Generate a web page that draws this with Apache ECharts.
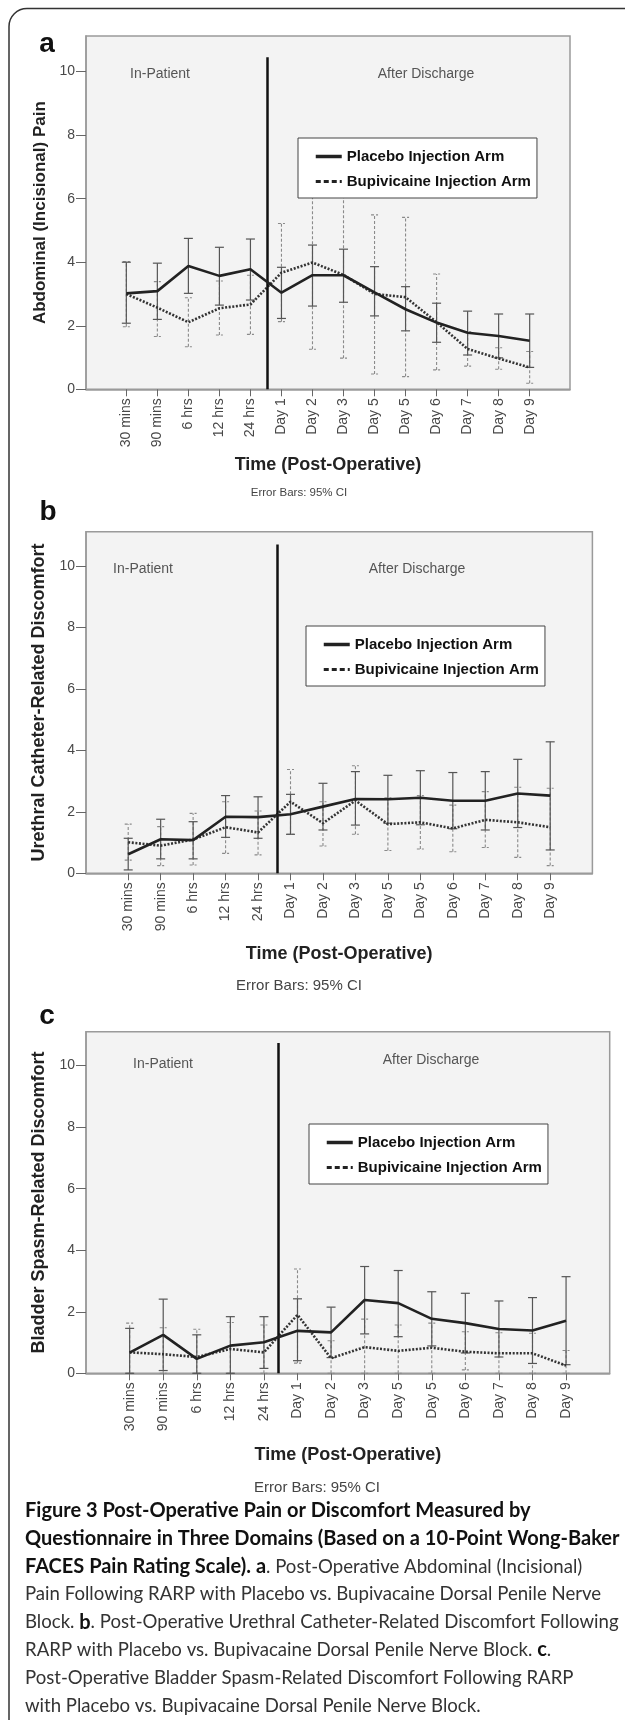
<!DOCTYPE html>
<html>
<head>
<meta charset="utf-8">
<script src="https://cdn.jsdelivr.net/npm/echarts@6/dist/echarts.min.js"></script>
<style>
html,body{margin:0;padding:0;background:#fff;}
#chart{width:625px;height:1720px;}
</style>
</head>
<body>
<div id="chart"></div>
<script>
// ---------- data ----------
const categories = ['30 mins','90 mins','6 hrs','12 hrs','24 hrs','Day 1','Day 2','Day 3','Day 5','Day 5','Day 6','Day 7','Day 8','Day 9'];
const yTickValues = [0, 2, 4, 6, 8, 10];
const seriesNames = ['Placebo Injection Arm', 'Bupivicaine Injection Arm'];

// Panel a: Abdominal (Incisional) Pain
const aPlaceboMean = [3.02, 3.09, 3.88, 3.57, 3.78, 3.04, 3.59, 3.59, 3.05, 2.52, 2.10, 1.78, 1.68, 1.53];
const aPlaceboLow  = [2.08, 2.20, 3.02, 2.65, 2.81, 2.23, 2.62, 2.74, 2.31, 1.84, 1.48, 1.08, 0.99, 0.69];
const aPlaceboHigh = [4.00, 3.97, 4.75, 4.47, 4.73, 3.84, 4.54, 4.41, 3.86, 3.23, 2.71, 2.46, 2.37, 2.37];
const aBupiMean    = [3.00, 2.57, 2.11, 2.55, 2.67, 3.67, 3.99, 3.60, 3.00, 2.90, 2.11, 1.27, 0.97, 0.69];
const aBupiLow     = [1.97, 1.66, 1.34, 1.71, 1.73, 2.13, 1.26, 0.98, 0.48, 0.40, 0.61, 0.73, 0.63, 0.19];
const aBupiHigh    = [4.02, 3.39, 2.88, 3.41, 3.59, 5.22, 6.72, 6.22, 5.49, 5.41, 3.63, 1.81, 1.31, 1.19];

// Panel b: Urethral Catheter-Related Discomfort
const bPlaceboMean = [0.62, 1.11, 1.08, 1.84, 1.83, 1.92, 2.17, 2.42, 2.41, 2.46, 2.36, 2.36, 2.60, 2.53];
const bPlaceboLow  = [0.11, 0.47, 0.47, 1.17, 1.14, 1.27, 1.41, 1.57, 1.63, 1.58, 1.45, 1.41, 1.49, 0.76];
const bPlaceboHigh = [1.14, 1.76, 1.68, 2.53, 2.49, 2.57, 2.93, 3.31, 3.19, 3.34, 3.28, 3.31, 3.71, 4.28];
const bBupiMean    = [1.01, 0.90, 1.10, 1.50, 1.33, 2.33, 1.63, 2.37, 1.60, 1.66, 1.46, 1.74, 1.66, 1.50];
const bBupiLow     = [0.43, 0.25, 0.27, 0.65, 0.60, 1.27, 0.89, 1.27, 0.74, 0.79, 0.70, 0.84, 0.52, 0.25];
const bBupiHigh    = [1.60, 1.52, 1.95, 2.33, 2.03, 3.38, 2.33, 3.50, 2.46, 2.53, 2.22, 2.66, 2.80, 2.77];

// Panel c: Bladder Spasm-Related Discomfort
const cPlaceboMean = [0.67, 1.25, 0.47, 0.90, 1.01, 1.38, 1.33, 2.38, 2.28, 1.77, 1.63, 1.44, 1.39, 1.71];
const cPlaceboLow  = [0.00, 0.09, 0.00, 0.00, 0.16, 0.41, 0.51, 1.28, 1.19, 0.89, 0.66, 0.53, 0.32, 0.28];
const cPlaceboHigh = [1.46, 2.41, 1.25, 1.84, 1.84, 2.42, 2.15, 3.47, 3.34, 2.65, 2.60, 2.35, 2.46, 3.14];
const cBupiMean    = [0.68, 0.62, 0.53, 0.79, 0.68, 1.90, 0.49, 0.85, 0.73, 0.83, 0.70, 0.65, 0.65, 0.25];
const cBupiLow     = [0.00, 0.00, 0.00, 0.00, 0.00, 0.33, 0.00, 0.00, 0.00, 0.00, 0.11, 0.00, 0.00, 0.00];
const cBupiHigh    = [1.63, 1.48, 1.43, 1.65, 1.57, 3.39, 1.06, 1.76, 1.57, 1.63, 1.35, 1.32, 1.30, 0.74];

// divider between in-patient and after discharge (x in category units, top in y units)
const dividerX   = [4.55, 4.59, 4.44];
const dividerTop = [10.45, 10.7, 10.73];

const yTitles = ['Abdominal (Incisional) Pain', 'Urethral Catheter-Related Discomfort', 'Bladder Spasm-Related Discomfort'];
const panelLetters = ['a', 'b', 'c'];
const xTitle = 'Time (Post-Operative)';
const errorNote = 'Error Bars: 95% CI';

// ---------- layout ----------
const panels = [
  { pm: aPlaceboMean, pl: aPlaceboLow, ph: aPlaceboHigh, bm: aBupiMean, bl: aBupiLow, bh: aBupiHigh,
    grid: {left: 86, top: 36, width: 484, height: 353.3}, yMax: 11.12, yNameSize: 17, yNameGap: 24, xNameGap: 67,
    letter: [47, 44], inP: [160, 74], after: [426, 74], note: [299, 493, 11.5],
    legend: {left: 298, top: 138} },
  { pm: bPlaceboMean, pl: bPlaceboLow, ph: bPlaceboHigh, bm: bBupiMean, bl: bBupiLow, bh: bBupiHigh,
    grid: {left: 86, top: 531.7, width: 506.4, height: 341.6}, yMax: 11.12, yNameSize: 18, yNameGap: 32, xNameGap: 72,
    letter: [48, 512], inP: [143, 569], after: [417, 569], note: [299, 986, 15],
    legend: {left: 306, top: 626} },
  { pm: cPlaceboMean, pl: cPlaceboLow, ph: cPlaceboHigh, bm: cBupiMean, bl: cBupiLow, bh: cBupiHigh,
    grid: {left: 86, top: 1031.7, width: 523.7, height: 341.6}, yMax: 11.1, yNameSize: 18, yNameGap: 32, xNameGap: 73,
    letter: [47, 1016], inP: [163, 1064], after: [431, 1060], note: [317, 1488, 15],
    legend: {left: 309, top: 1124} }
];

function errRender(capHalf, stroke, dash, width) {
  return function (params, api) {
    const x = api.value(0), lo = api.value(1), hi = api.value(2);
    const p1 = api.coord([x, lo]), p2 = api.coord([x, hi]);
    const st = () => ({ stroke: stroke, lineWidth: width, lineDash: dash, fill: null });
    return { type: 'group', children: [
      { type: 'line', shape: { x1: p1[0], y1: p1[1], x2: p2[0], y2: p2[1] }, style: st() },
      { type: 'line', shape: { x1: p1[0] - capHalf, y1: p1[1], x2: p1[0] + capHalf, y2: p1[1] }, style: st() },
      { type: 'line', shape: { x1: p2[0] - capHalf, y1: p2[1], x2: p2[0] + capHalf, y2: p2[1] }, style: st() }
    ]};
  };
}

const FONT = 'Liberation Sans, Arial, sans-serif';
const grids = [], xAxes = [], yAxes = [], series = [], legends = [], graphics = [];
const idx = categories.map((c, i) => i);
const hiddenSymbol = { color: 'rgba(0,0,0,0)', borderWidth: 0, opacity: 0 };

panels.forEach((p, k) => {
  grids.push(Object.assign({ show: true, backgroundColor: '#f3f3f3', borderColor: '#9a9a9a', borderWidth: 1.5 }, p.grid));
  xAxes.push({
    type: 'value', gridIndex: k, min: -1.3, max: 14.3,
    name: xTitle, nameLocation: 'middle', nameGap: p.xNameGap,
    nameTextStyle: { fontFamily: FONT, fontWeight: 'bold', fontSize: 18, color: '#222' },
    splitLine: { show: false },
    axisLine: { show: true, onZero: false, lineStyle: { color: '#9a9a9a', width: 1.5 } },
    axisTick: { show: true, length: 7, customValues: idx, lineStyle: { color: '#666' } },
    axisLabel: { customValues: idx, rotate: 90, margin: 9, fontFamily: FONT, fontSize: 14, color: '#484848',
      formatter: v => categories[Math.round(v)] }
  });
  yAxes.push({
    type: 'value', gridIndex: k, min: 0, max: p.yMax,
    name: yTitles[k], nameLocation: 'middle', nameGap: p.yNameGap, nameRotate: 90,
    nameTextStyle: { fontFamily: FONT, fontWeight: 'bold', fontSize: p.yNameSize, color: '#222' },
    splitLine: { show: false },
    axisLine: { show: true, onZero: false, lineStyle: { color: '#9a9a9a', width: 1.5 } },
    axisTick: { show: true, length: 10, customValues: yTickValues, lineStyle: { color: '#666' } },
    axisLabel: { customValues: yTickValues, margin: 11, fontFamily: FONT, fontSize: 14, color: '#484848' }
  });
  // error bars
  series.push({
    type: 'custom', name: 'Bupivicaine CI', xAxisIndex: k, yAxisIndex: k, z: 2,
    renderItem: errRender(3.5, '#8a8a8a', [3, 2], 1.1),
    encode: { x: 0, y: [1, 2] },
    data: idx.map(i => [i, p.bl[i], p.bh[i]])
  });
  series.push({
    type: 'custom', name: 'Placebo CI', xAxisIndex: k, yAxisIndex: k, z: 3,
    renderItem: errRender(4.5, '#555', null, 1.2),
    encode: { x: 0, y: [1, 2] },
    data: idx.map(i => [i, p.pl[i], p.ph[i]])
  });
  series.push({
    type: 'line', name: seriesNames[1], xAxisIndex: k, yAxisIndex: k, z: 4,
    symbol: 'none', color: '#333',
    lineStyle: { color: '#333', width: 2.6, type: [2, 1.6] },
    data: idx.map(i => [i, p.bm[i]])
  });
  series.push({
    type: 'line', name: seriesNames[0], xAxisIndex: k, yAxisIndex: k, z: 5,
    symbol: 'none', color: '#222',
    lineStyle: { color: '#222', width: 2.6 },
    data: idx.map(i => [i, p.pm[i]]),
    markLine: {
      silent: true, symbol: 'none', label: { show: false },
      lineStyle: { color: '#111', width: 2.5, type: 'solid' },
      data: [[ { coord: [dividerX[k], 0] }, { coord: [dividerX[k], dividerTop[k]] } ]]
    }
  });
  legends.push({
    left: p.legend.left, top: p.legend.top, orient: 'vertical',
    backgroundColor: '#fff', borderColor: '#444', borderWidth: 1, borderRadius: 0,
    padding: [11, 6, 9, 16], itemGap: 10, itemWidth: 26, itemHeight: 14,
    selectedMode: false,
    textStyle: { fontFamily: FONT, fontWeight: 'bold', fontSize: 15, color: '#111' },
    data: [
      { name: seriesNames[0], itemStyle: hiddenSymbol, lineStyle: { width: 3.5, type: 'solid', color: '#222' } },
      { name: seriesNames[1], itemStyle: hiddenSymbol, lineStyle: { width: 3, type: [5, 3], color: '#222' } }
    ]
  });
  graphics.push({ type: 'text', x: p.letter[0], y: p.letter[1], style: { text: panelLetters[k],
    font: 'bold 28px ' + FONT, fill: '#111', align: 'center', verticalAlign: 'middle' } });
  graphics.push({ type: 'text', x: p.inP[0], y: p.inP[1], z: 10, style: { text: 'In-Patient',
    font: '14px ' + FONT, fill: '#555', align: 'center', verticalAlign: 'middle' } });
  graphics.push({ type: 'text', x: p.after[0], y: p.after[1], z: 10, style: { text: 'After Discharge',
    font: '14px ' + FONT, fill: '#555', align: 'center', verticalAlign: 'middle' } });
  graphics.push({ type: 'text', x: p.note[0], y: p.note[1], style: { text: errorNote,
    font: p.note[2] + 'px ' + FONT, fill: '#444', align: 'center', verticalAlign: 'middle' } });
});

// outer frame
graphics.push({ type: 'rect', z: -1, shape: { x: 9, y: 8.5, width: 720, height: 1800, r: 18 },
  style: { fill: null, stroke: '#333', lineWidth: 1.5 } });

// caption
const captionLines = [
  '{b|Figure 3 Post-Operative Pain or Discomfort Measured by}',
  '{b|Questionnaire in Three Domains (Based on a 10-Point Wong-Baker}',
  '{b|FACES Pain Rating Scale). a}{r|. Post-Operative Abdominal (Incisional)}',
  '{r|Pain Following RARP with Placebo vs. Bupivacaine Dorsal Penile Nerve}',
  '{r|Block. }{b|b}{r|. Post-Operative Urethral Catheter-Related Discomfort Following}',
  '{r|RARP with Placebo vs. Bupivacaine Dorsal Penile Nerve Block. }{b|c}{r|.}',
  '{r|Post-Operative Bladder Spasm-Related Discomfort Following RARP}',
  '{r|with Placebo vs. Bupivacaine Dorsal Penile Nerve Block.}'
];
const CAPFONT = 'Lato, Open Sans, sans-serif';
captionLines.forEach((t, i) => {
  graphics.push({ type: 'text', x: 25, y: 1511 + i * 27.8, style: {
    text: t, align: 'left', verticalAlign: 'middle',
    rich: {
      b: { fontFamily: CAPFONT, fontWeight: 'bold', fontSize: 20, fill: '#111' },
      r: { fontFamily: CAPFONT, fontWeight: 'normal', fontSize: 18.6, fill: '#333' }
    } } });
});

const chart = echarts.init(document.getElementById('chart'), null, { renderer: 'canvas' });
chart.setOption({
  animation: false,
  backgroundColor: '#fff',
  grid: grids, xAxis: xAxes, yAxis: yAxes, series: series, legend: legends,
  graphic: graphics
});
</script>
</body>
</html>
